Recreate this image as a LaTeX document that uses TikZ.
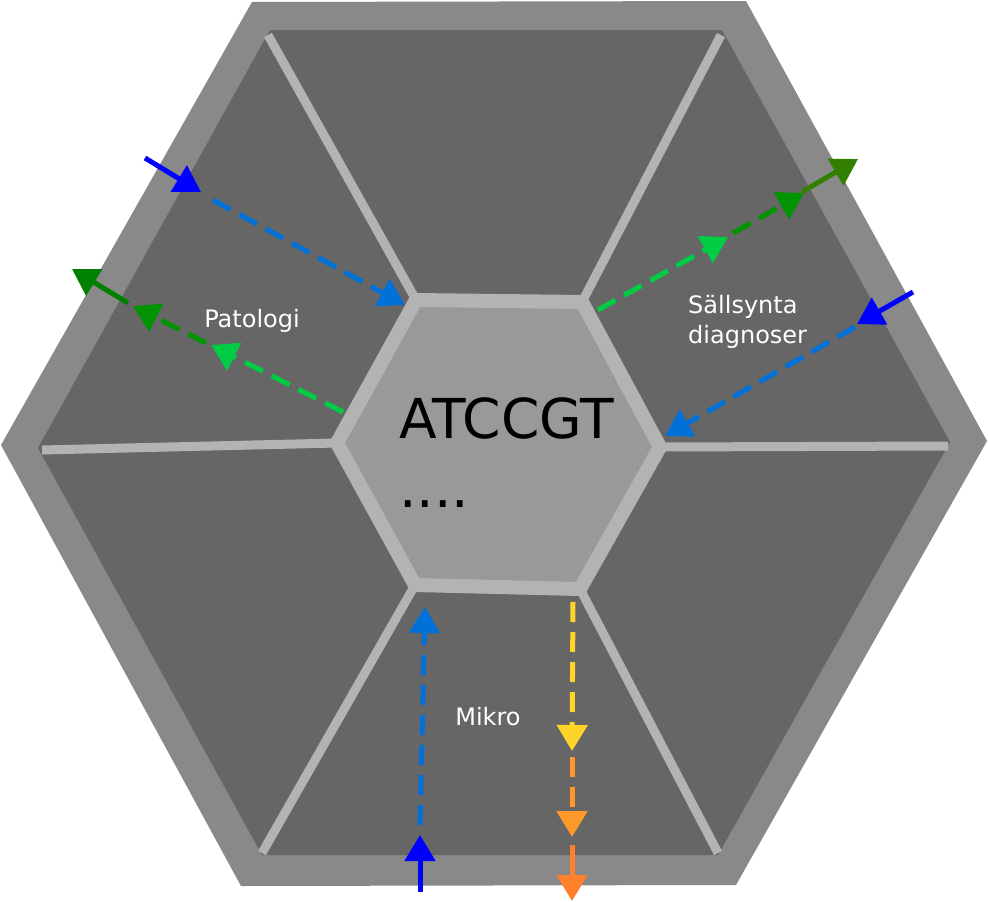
\documentclass[tikz,border=0pt]{standalone}
\usepackage{fontspec}
\setmainfont{DejaVu Sans}
\usetikzlibrary{arrows.meta}
\definecolor{outerg}{HTML}{898989}
\definecolor{innerg}{HTML}{666666}
\definecolor{spokeg}{HTML}{B3B3B3}
\definecolor{centerg}{HTML}{999999}
\definecolor{bsolid}{HTML}{0000FF}
\definecolor{bdash}{HTML}{0071D9}
\definecolor{lgreen}{HTML}{00CC44}
\definecolor{mgreen}{HTML}{009400}
\definecolor{dgreenL}{HTML}{008000}
\definecolor{dgreenR}{HTML}{338000}
\definecolor{ylw}{HTML}{FFD42A}
\definecolor{morange}{HTML}{FF9A2A}
\definecolor{dorange}{HTML}{FF7F2A}
\tikzset{
  flow/.style={line width=5pt,-{Triangle[length=26pt,width=30pt]}},
  dashflow/.style={flow,dash pattern=on 20pt off 10pt},
  spoke/.style={line width=9pt,spokeg},
  lbl/.style={text=white,font=\fontsize{24}{30}\selectfont,inner sep=0pt},
  seq/.style={text=black,font=\fontsize{55}{60}\selectfont,inner sep=0pt,anchor=base west}
}
\begin{document}
\begin{tikzpicture}[x=1pt,y=-1pt]
\useasboundingbox (0,0) rectangle (988,902);
% hexagons
\fill[outerg] (252,2) -- (746,1) -- (987,441) -- (736,885) -- (241,886) -- (1,445) -- cycle;
\fill[innerg] (270,30) -- (722,30) -- (950,442) -- (718,855) -- (262,855) -- (38,448) -- cycle;
% centre hexagon vertices
\coordinate (cTL) at (416,300);
\coordinate (cTR) at (582,302);
\coordinate (cR) at (660,447);
\coordinate (cBR) at (580,589);
\coordinate (cBL) at (415,585);
\coordinate (cL) at (337,443);
% spokes
\coordinate (oTL) at (268,35);
\coordinate (oTR) at (721,35);
\coordinate (oR) at (948,446);
\coordinate (oBR) at (718,853);
\coordinate (oBL) at (262,853);
\coordinate (oL) at (42,450);
\draw[spoke] (cTL) -- (oTL);
\draw[spoke] (cTR) -- (oTR);
\draw[spoke] (cR) -- (oR);
\draw[spoke] (cBR) -- (oBR);
\draw[spoke] (cBL) -- (oBL);
\draw[spoke] (cL) -- (oL);
\draw[line width=14pt,spokeg,fill=centerg,line join=miter] (cTL) -- (cTR) -- (cR) -- (cBR) -- (cBL) -- (cL) -- cycle;
% texts
\node[seq] (atc) at (399,438) {ATCCGT};
\node[seq] (dots) at (399,507) {....};
\node[lbl] (pat) at (252,321) {Patologi};
\node[lbl,align=left,anchor=base west] (sal) at (688,343) {Sällsynta\\diagnoser};
\node[lbl] (mik) at (488,717) {Mikro};
% Patologi arrows
\coordinate (p1) at (145,158); \coordinate (p2) at (201,192);
\coordinate (p3) at (213,200); \coordinate (p4) at (405,305);
\draw[flow,bsolid] (p1) -- (p2);
\draw[dashflow,bdash] (p3) -- (p4);
\coordinate (q1) at (343,412); \coordinate (q2) at (211,345);
\coordinate (q3) at (206,343); \coordinate (q4) at (133,306);
\coordinate (q5) at (128,303); \coordinate (q6) at (72,269);
\draw[dashflow,lgreen] (q1) -- (q2);
\draw[dashflow,mgreen] (q3) -- (q4);
\draw[flow,dgreenL] (q5) -- (q6);
% Sallsynta arrows
\coordinate (r1) at (598,310); \coordinate (r2) at (728,237);
\coordinate (r3) at (733,233); \coordinate (r4) at (804,193);
\coordinate (r5) at (802,192); \coordinate (r6) at (858,159);
\draw[dashflow,lgreen] (r1) -- (r2);
\draw[dashflow,mgreen] (r3) -- (r4);
\draw[flow,dgreenR] (r5) -- (r6);
\coordinate (s1) at (913,292); \coordinate (s2) at (857,324);
\coordinate (s3) at (855,327); \coordinate (s4) at (665,436);
\draw[flow,bsolid] (s1) -- (s2);
\draw[dashflow,bdash] (s3) -- (s4);
% Mikro arrows
\coordinate (m1) at (420,892); \coordinate (m2) at (420,835);
\coordinate (m3) at (420,825); \coordinate (m4) at (425,607);
\draw[flow,bsolid] (m1) -- (m2);
\draw[dashflow,bdash] (m3) -- (m4);
\coordinate (y1) at (573,602); \coordinate (y2) at (572,751);
\coordinate (y3) at (572,757); \coordinate (y4) at (572,837);
\coordinate (y5) at (572,845); \coordinate (y6) at (572,901);
\draw[dashflow,ylw] (y1) -- (y2);
\draw[dashflow,morange] (y3) -- (y4);
\draw[flow,dorange] (y5) -- (y6);
\end{tikzpicture}
\end{document}
